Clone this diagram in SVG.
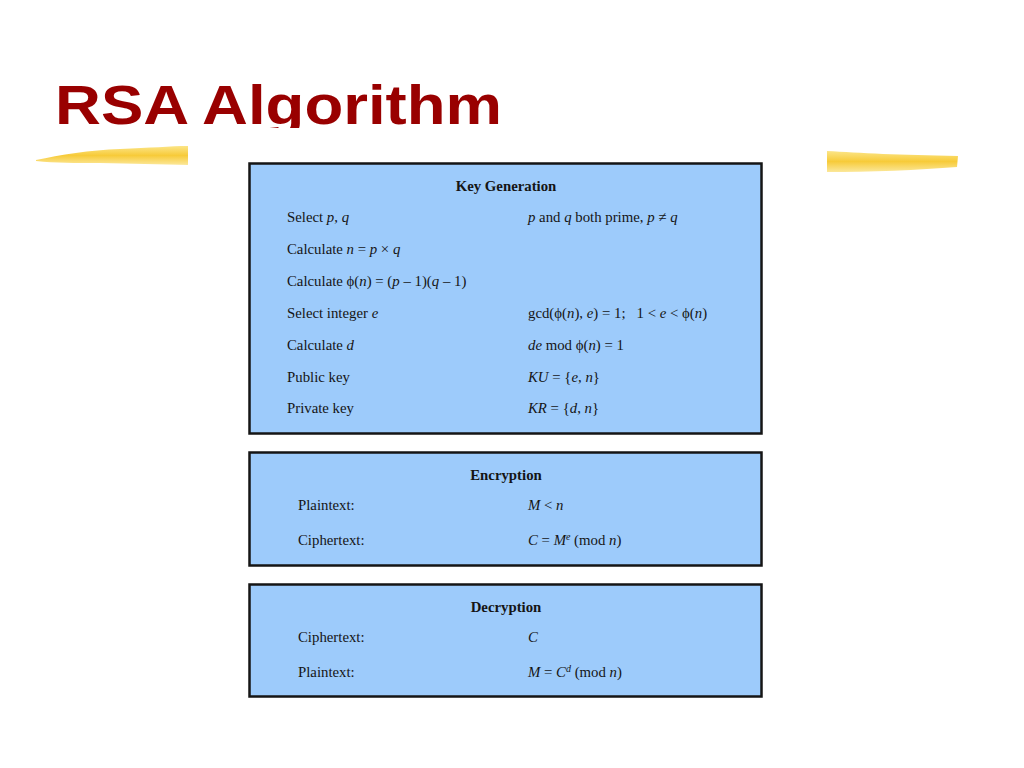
<svg xmlns="http://www.w3.org/2000/svg" width="1024" height="768" viewBox="0 0 1024 768">
<style>
.box{fill:#9dcbfb;stroke:#151515;stroke-width:2.5}
.t{font-family:"Liberation Serif","Times New Roman",serif;font-size:14.8px;fill:#151515}
.h{font-weight:bold;text-anchor:middle}
.i{font-style:italic}
.title{font-family:"Liberation Sans",Arial,sans-serif;font-weight:bold;font-size:55px;fill:#990000}
</style>
<defs>
<linearGradient id="hl" x1="0" y1="0" x2="0" y2="1">
<stop offset="0" stop-color="#fbe27a"/>
<stop offset="0.5" stop-color="#f6c523"/>
<stop offset="1" stop-color="#fbe58f"/>
</linearGradient>
<clipPath id="tc"><rect x="0" y="60" width="1024" height="68"/></clipPath>
</defs>
<rect width="1024" height="768" fill="#ffffff"/>
<text class="title" x="55" y="124" textLength="447" lengthAdjust="spacingAndGlyphs" clip-path="url(#tc)">RSA Algorithm</text>
<path d="M36 160 C60 155 90 150 120 149 C150 148 170 146 188 146 L188 165 C160 164 130 164 100 163 C75 163 55 163 36 161 Z" fill="url(#hl)" opacity="0.9"/>
<path d="M827 151 C860 153 900 155 958 156 L957 167 C920 170 870 172 827 172 Z" fill="url(#hl)" opacity="0.9"/>

<g id="keygen">
<rect class="box" x="249.5" y="163.5" width="512" height="270"/>
<text class="t h" x="506" y="191">Key Generation</text>
<text class="t" x="287" y="222">Select <tspan class="i">p</tspan>, <tspan class="i">q</tspan></text>
<text class="t" x="528" y="222"><tspan class="i">p</tspan> and <tspan class="i">q</tspan> both prime, <tspan class="i">p</tspan> ≠ <tspan class="i">q</tspan></text>
<text class="t" x="287" y="254">Calculate <tspan class="i">n</tspan> = <tspan class="i">p</tspan> × <tspan class="i">q</tspan></text>
<text class="t" x="287" y="286">Calculate ϕ(<tspan class="i">n</tspan>) = (<tspan class="i">p</tspan> – 1)(<tspan class="i">q</tspan> – 1)</text>
<text class="t" x="287" y="318">Select integer <tspan class="i">e</tspan></text>
<text class="t" x="528" y="318" xml:space="preserve">gcd(ϕ(<tspan class="i">n</tspan>), <tspan class="i">e</tspan>) = 1;   1 &lt; <tspan class="i">e</tspan> &lt; ϕ(<tspan class="i">n</tspan>)</text>
<text class="t" x="287" y="350">Calculate <tspan class="i">d</tspan></text>
<text class="t" x="528" y="350"><tspan class="i">de</tspan> mod ϕ(<tspan class="i">n</tspan>) = 1</text>
<text class="t" x="287" y="382">Public key</text>
<text class="t" x="528" y="382"><tspan class="i">KU</tspan> = {<tspan class="i">e</tspan>, <tspan class="i">n</tspan>}</text>
<text class="t" x="287" y="413">Private key</text>
<text class="t" x="528" y="413"><tspan class="i">KR</tspan> = {<tspan class="i">d</tspan>, <tspan class="i">n</tspan>}</text>
</g>

<g id="encryption">
<rect class="box" x="249.5" y="452.5" width="512" height="113"/>
<text class="t h" x="506" y="480">Encryption</text>
<text class="t" x="298" y="510">Plaintext:</text>
<text class="t" x="528" y="510"><tspan class="i">M</tspan> &lt; <tspan class="i">n</tspan></text>
<text class="t" x="298" y="545">Ciphertext:</text>
<text class="t" x="528" y="545"><tspan class="i">C</tspan> = <tspan class="i">M</tspan><tspan class="i" font-size="10" dy="-5">e</tspan><tspan dy="5"> (mod </tspan><tspan class="i">n</tspan>)</text>
</g>

<g id="decryption">
<rect class="box" x="249.5" y="584.5" width="512" height="112"/>
<text class="t h" x="506" y="612">Decryption</text>
<text class="t" x="298" y="642">Ciphertext:</text>
<text class="t" x="528" y="642"><tspan class="i">C</tspan></text>
<text class="t" x="298" y="677">Plaintext:</text>
<text class="t" x="528" y="677"><tspan class="i">M</tspan> = <tspan class="i">C</tspan><tspan class="i" font-size="10" dy="-5">d</tspan><tspan dy="5"> (mod </tspan><tspan class="i">n</tspan>)</text>
</g>
<g id="connectors"/>
</svg>
